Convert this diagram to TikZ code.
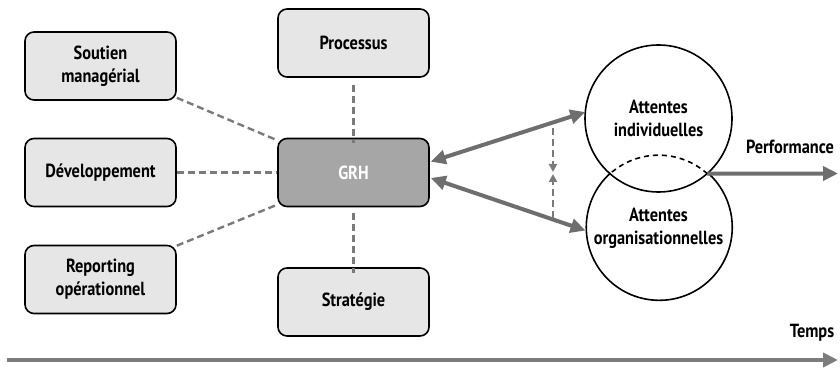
\documentclass[tikz,border=0pt]{standalone}
\usepackage{fontspec}
\setmainfont{PT Sans}[FakeStretch=0.86]
\usetikzlibrary{arrows.meta,calc}
\definecolor{boxfill}{HTML}{E6E6E6}
\definecolor{grhfill}{HTML}{A6A6A6}
\definecolor{arrgray}{HTML}{6E6E6E}
\definecolor{dashgray}{HTML}{7A7A7A}
\begin{document}
\begin{tikzpicture}[x=1pt,y=1pt,
  txt/.style={font=\fontsize{19}{23}\selectfont\bfseries, align=center},
  box/.style={txt, draw=black, line width=1.6pt, rounded corners=9pt, fill=boxfill,
    minimum width=151pt, minimum height=68pt, inner sep=0pt},
  ring/.style={txt, circle, inner sep=0pt, outer sep=0pt, minimum size=#1},
  conn/.style={draw=dashgray, line width=2.4pt, dash pattern=on 7pt off 4pt},
  bigarr/.style={draw=arrgray, line width=4pt},
  bigtip/.tip={Triangle[length=15pt,width=14pt]},
  smalltip/.tip={Triangle[length=8pt,width=8pt]}]
\useasboundingbox (0,0) rectangle (840,367);

% boxes
\node[box] (sout) at (100.5,301) {Soutien\\managérial};
\node[box] (dev)  at (100.5,194.5) {Développement};
\node[box] (rep)  at (100.5,87.5) {Reporting\\opérationnel};
\node[box] (proc) at (353.5,324) {Processus};
\node[box, fill=grhfill, text=white] (grh) at (353.5,194.5) {GRH};
\node[box] (strat) at (353.5,65) {Stratégie};

% dashed links
\draw[conn] ($(sout.south east)+(0,3)$) -- ($(grh.north west)+(1,-3)$);
\draw[conn] (dev.east) -- (grh.west);
\draw[conn] ($(rep.north east)+(0,-1)$) -- ($(grh.south west)+(1,3)$);
\draw[conn] ($(proc.south)+(0,-7)$) -- ($(grh.north)+(0,-5)$);
\draw[conn] ($(grh.south)+(0,-6)$) -- ($(strat.north)+(0,-6)$);

% circles
\node[ring=147pt, draw=black, line width=1.6pt] (ind) at (658.5,248.5) {Attentes\\individuelles};
\node[ring=146pt] (org) at (658.5,139) {Attentes\\organisationnelles};
\draw[line width=1.6pt] (org.131.8) arc[start angle=131.8, end angle=408.2, radius=73pt];
\draw[line width=1.6pt, dash pattern=on 5pt off 4pt] (org.48.2) arc[start angle=48.2, end angle=131.8, radius=73pt];

% double arrows
\draw[bigarr, {bigtip}-{bigtip}] ($(grh.east)+(1,10.8)$) -- (ind.175);
\draw[bigarr, {bigtip}-{bigtip}] ($(grh.east)+(1,-5.5)$) -- (org.182);

% vertical dashed arrows
\coordinate (vtop) at (553,239);
\coordinate (vmidA) at (553,195);
\coordinate (vmidB) at (553,193);
\coordinate (vbot) at (553,149);
\draw[conn, -{smalltip}] (vtop) -- (vmidA);
\draw[conn, -{smalltip}] (vbot) -- (vmidB);

% performance
\coordinate (perfend) at (838,193.5);
\draw[bigarr, -{bigtip}] (org.48.2) -- (perfend);
\node[txt] (perf) at (790,220) {Performance};

% time axis
\coordinate (t0) at (7,7);
\coordinate (t1) at (838,7);
\draw[bigarr, draw=arrgray!90, -{bigtip}] (t0) -- (t1);
\node[txt] (temps) at (812,34) {Temps};
\end{tikzpicture}
\end{document}
